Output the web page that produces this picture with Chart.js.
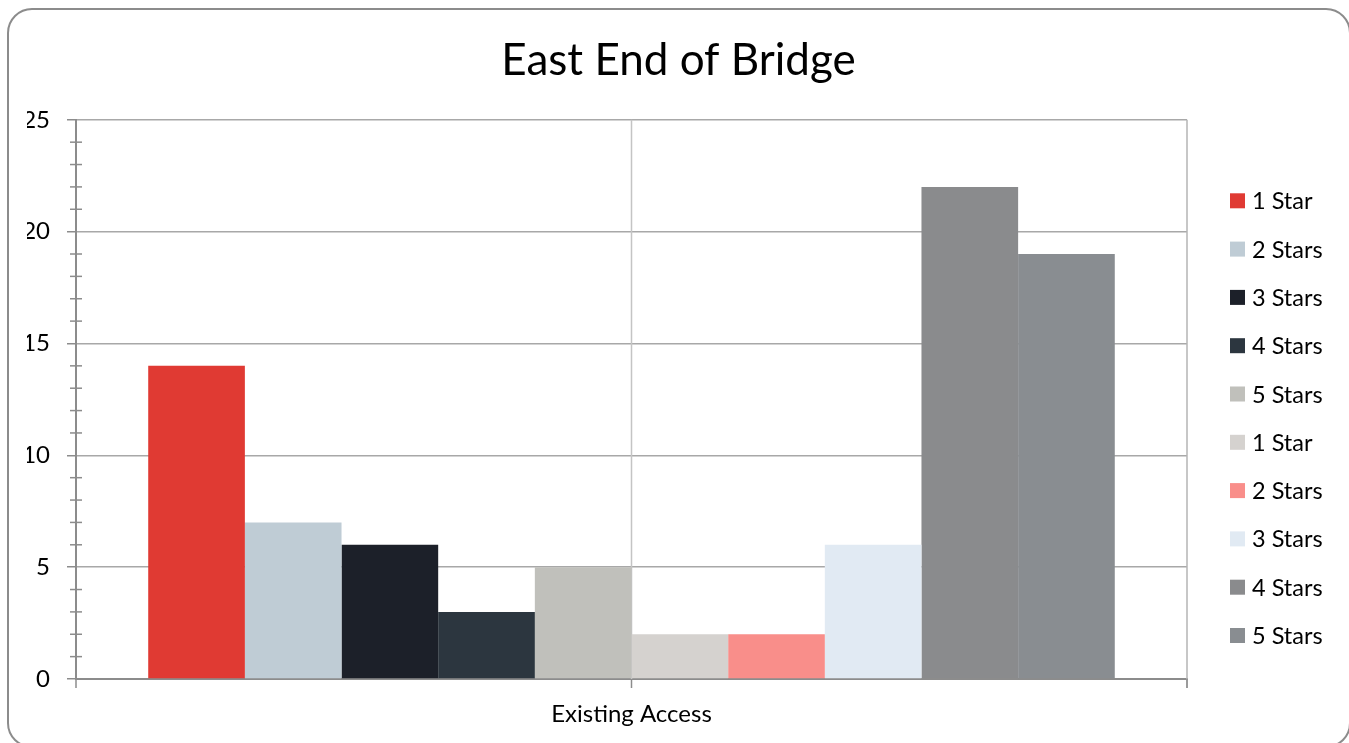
<!DOCTYPE html>
<html>
<head>
<meta charset="utf-8">
<script src="https://cdn.jsdelivr.net/npm/chart.js@4.4.1/dist/chart.umd.min.js"></script>
<style>
    body { margin: 0; background: #fff; overflow: hidden; }
    #wrap { position: relative; width: 1349px; height: 743px; overflow: hidden; }
    #frame {
        position: absolute; left: 7px; top: 8px; width: 1340px; height: 736px;
        border: 2px solid #8c8c8c; border-radius: 25px; pointer-events: none;
    }
    canvas { position: absolute; left: 0; top: 0; }
</style>
</head>
<body>
<div id="wrap">
    <canvas id="bridgeChart" width="1349" height="743"></canvas>
    <div id="frame"></div>
</div>
<script>
// Chart data
const categories = ['Existing Access'];
const seriesLabels = ['1 Star', '2 Stars', '3 Stars', '4 Stars', '5 Stars', '1 Star', '2 Stars', '3 Stars', '4 Stars', '5 Stars'];
const seriesValues = [14, 7, 6, 3, 5, 2, 2, 6, 22, 19];
const seriesColors = ['#e03a33', '#bfccd5', '#1c2029', '#2c363f', '#c0c0bb', '#d5d2cf', '#f98e8a', '#e1eaf3', '#8a8b8d', '#898d91'];
const yMax = 25;
const yStep = 5;

const FONT = 'Lato, "Open Sans", sans-serif';

// axis decorations: minor ticks, category ticks, vertical lines, legend
const axisDecor = {
    id: 'axisDecor',
    beforeDatasetsDraw(chart) {
        const ctx = chart.ctx;
        const x = chart.scales.x;
        const area = chart.chartArea;
        ctx.save();
        // center vertical gridline
        ctx.strokeStyle = '#c4c4c4';
        ctx.lineWidth = 1.5;
        const mid = x.getPixelForValue(0);
        ctx.beginPath();
        ctx.moveTo(mid, area.top);
        ctx.lineTo(mid, area.bottom);
        ctx.stroke();
        // right edge
        ctx.strokeStyle = '#b4b4b4';
        ctx.beginPath();
        ctx.moveTo(area.right, area.top);
        ctx.lineTo(area.right, area.bottom + 9);
        ctx.stroke();
        ctx.restore();
    },
    afterDraw(chart) {
        const ctx = chart.ctx;
        const x = chart.scales.x;
        const y = chart.scales.y;
        const area = chart.chartArea;
        ctx.save();
        ctx.strokeStyle = '#8c8c8c';
        ctx.lineWidth = 1.5;
        // minor ticks on y axis
        for (let v = 0; v <= yMax; v++) {
            if (v % yStep === 0) continue;
            const py = y.getPixelForValue(v);
            ctx.beginPath();
            ctx.moveTo(area.left - 6, py);
            ctx.lineTo(area.left + 6, py);
            ctx.stroke();
        }
        // category ticks on x axis
        [area.left, x.getPixelForValue(0), area.right].forEach(function(px) {
            ctx.beginPath();
            ctx.moveTo(px, area.bottom);
            ctx.lineTo(px, area.bottom + 9);
            ctx.stroke();
        });
        ctx.restore();

        // legend on the right
        ctx.save();
        ctx.font = '23.5px ' + FONT;
        ctx.textBaseline = 'middle';
        chart.data.datasets.forEach(function(ds, i) {
            const cy = area.top + 81 + i * 48.3;
            const bx = area.right + 43;
            ctx.fillStyle = ds.backgroundColor;
            ctx.fillRect(bx, cy - 7.5, 15, 15);
            ctx.fillStyle = '#000';
            ctx.fillText(ds.label, bx + 22, cy + 1);
        });
        ctx.restore();
    }
};

const datasets = seriesLabels.map(function(label, i) {
    return {
        label: label,
        data: [seriesValues[i]],
        backgroundColor: seriesColors[i],
        borderWidth: 0,
        categoryPercentage: 0.87,
        barPercentage: 1.0
    };
});

new Chart(document.getElementById('bridgeChart'), {
    type: 'bar',
    data: {
        labels: categories,
        datasets: datasets
    },
    options: {
        responsive: false,
        animation: false,
        layout: {
            padding: { left: 27, right: 19, top: 10, bottom: 0 }
        },
        plugins: {
            legend: { display: false },
            tooltip: { enabled: false },
            title: {
                display: true,
                text: 'East End of Bridge',
                color: '#000',
                font: { family: FONT, size: 44, weight: 'normal' },
                padding: { top: 24, bottom: 33 }
            }
        },
        scales: {
            x: {
                grid: { display: false, drawTicks: false },
                border: { color: '#8c8c8c', width: 2 },
                ticks: {
                    color: '#000',
                    padding: 21,
                    font: { family: FONT, size: 24 }
                },
                afterFit: function(scale) { scale.height = 64; }
            },
            y: {
                min: 0,
                max: yMax,
                ticks: {
                    stepSize: yStep,
                    color: '#000',
                    padding: 17,
                    font: { family: FONT, size: 24 }
                },
                grid: {
                    color: '#a8a8a8',
                    lineWidth: 1.5,
                    tickLength: 9,
                    tickColor: '#8c8c8c'
                },
                border: { color: '#8c8c8c', width: 2 },
                afterFit: function(scale) { scale.width = 49; }
            },
            legendSpace: {
                position: 'right',
                display: true,
                grid: { display: false },
                ticks: { display: false },
                border: { display: false },
                afterFit: function(scale) { scale.width = 143; }
            }
        }
    },
    plugins: [axisDecor]
});
</script>
</body>
</html>
